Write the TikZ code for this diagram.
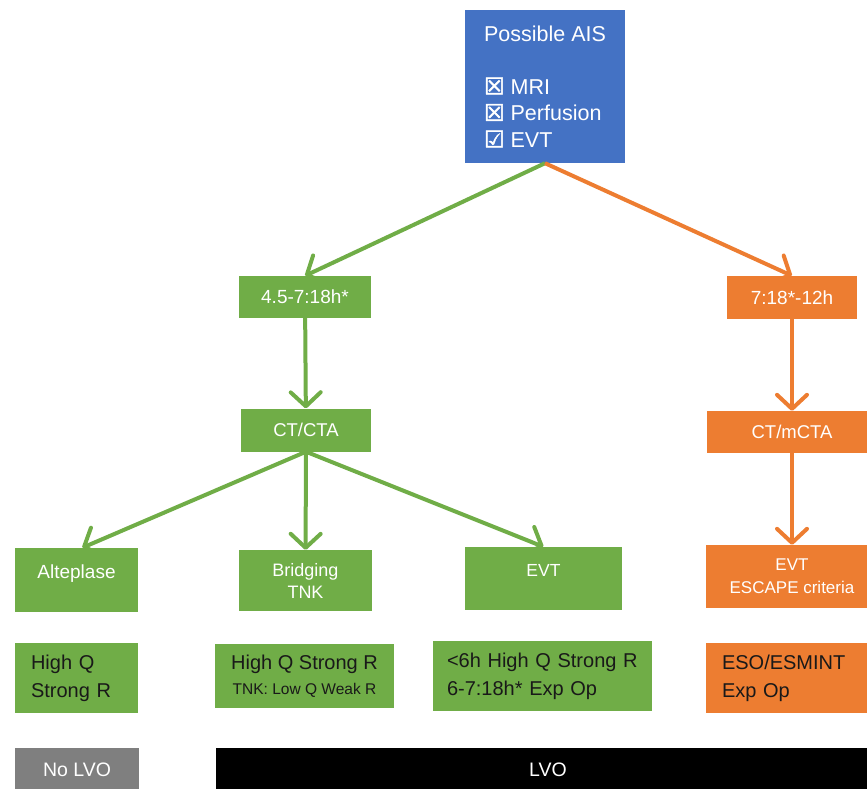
\documentclass[tikz,border=0pt]{standalone}
\usepackage{fontspec}
\setmainfont{Liberation Sans}
\newfontfamily\symfont{DejaVu Sans}[FakeBold=2]
\usetikzlibrary{positioning,arrows.meta}
\definecolor{aisblue}{HTML}{4472C4}
\definecolor{evtgreen}{HTML}{70AD47}
\definecolor{lateorange}{HTML}{ED7D31}
\definecolor{nolvogray}{HTML}{7F7F7F}
\newcommand{\fsz}[2]{\fontsize{#1}{#2}\selectfont}
\newcommand{\chkbox}[1]{{\symfont\fsz{23}{26.5}#1}}

\begin{document}
\begin{tikzpicture}[
  x=1pt, y=-1pt,
  box/.style={fill=#1, text=white, inner sep=0pt, align=center, font=\fsz{19}{23}},
  res/.style={fill=#1, text=black!90, inner xsep=16pt, inner ysep=0pt, align=left, font=\fsz{20}{28}},
  ar/.style={-{Straight Barb[length=14pt,width=30pt,round]}, line width=4pt, draw=#1}
]
\useasboundingbox (0,0) rectangle (867,788);
\node[box=aisblue, minimum width=160pt, minimum height=153pt, align=left, font=\fsz{21.5}{26.5}] (ais) at (545,86.5)
  {Possible AIS\\[26.5pt]\chkbox{☒} MRI\\\chkbox{☒} Perfusion\\\chkbox{☑} EVT};
\node[box=evtgreen, minimum width=132pt, minimum height=42pt] (n45) at (305,297) {4.5-7:18h*};
\node[box=lateorange, minimum width=130pt, minimum height=43pt] (n718) at (792,297.5) {7:18*-12h};
\node[box=evtgreen, minimum width=130pt, minimum height=43pt, font=\fsz{18.5}{22}] (ctcta) at (306,430) {CT/CTA};
\node[box=lateorange, minimum width=170pt, minimum height=42pt, font=\fsz{18.5}{22}] (ctm) at (792,432) {CT/mCTA};
\node[box=evtgreen, minimum width=123pt, minimum height=64pt, text depth=16pt] (alt) at (76.5,580) {Alteplase};
\node[box=evtgreen, minimum width=133pt, minimum height=61pt, font=\fsz{18}{22}] (brid) at (305.5,580.5) {Bridging\\TNK};
\node[box=evtgreen, minimum width=157pt, minimum height=63pt, text depth=16pt, font=\fsz{17.5}{22}] (evt) at (543.5,578.5) {EVT};
\node[box=lateorange, minimum width=172pt, minimum height=63pt, font=\fsz{17}{23}] (esc) at (792,576.5) {EVT\\ESCAPE criteria};
\node[res=evtgreen, minimum width=123pt, minimum height=70pt, text width=91pt] (r1) at (76.5,678) {High Q\\Strong R};
\node[res=evtgreen, minimum width=179pt, minimum height=64pt, align=center, font=\fsz{20}{25}] (r2) at (304.5,676)
  {High Q Strong R\\{\fsz{15.5}{25}TNK: Low Q Weak R}};
\node[res=evtgreen, minimum width=219pt, minimum height=70pt, inner xsep=14pt, text width=191pt] (r3) at (542.5,676) {<6h High Q Strong R\\6-7:18h* Exp Op};
\node[res=lateorange, minimum width=172pt, minimum height=70pt, text width=140pt] (r4) at (792,678) {ESO/ESMINT\\Exp Op};
\node[box=nolvogray, minimum width=124pt, minimum height=44pt, font=\fsz{19.5}{23}] (nolvo) at (77,770) {No LVO};
\node[box=black, minimum width=664pt, minimum height=44pt, font=\fsz{19.5}{23}] (lvo) at (548,770) {LVO};
\draw[ar=evtgreen] (ais.south) -- (n45.north);
\draw[ar=lateorange] (ais.south) -- (n718.north);
\draw[ar=evtgreen] (n45) -- (ctcta);
\draw[ar=evtgreen] (ctcta.south) -- (alt.80);
\draw[ar=evtgreen] (ctcta) -- (brid);
\draw[ar=evtgreen] (ctcta.south) -- (evt.north);
\draw[ar=lateorange] (n718) -- (ctm);
\draw[ar=lateorange] (ctm) -- (esc);
\end{tikzpicture}
\end{document}
